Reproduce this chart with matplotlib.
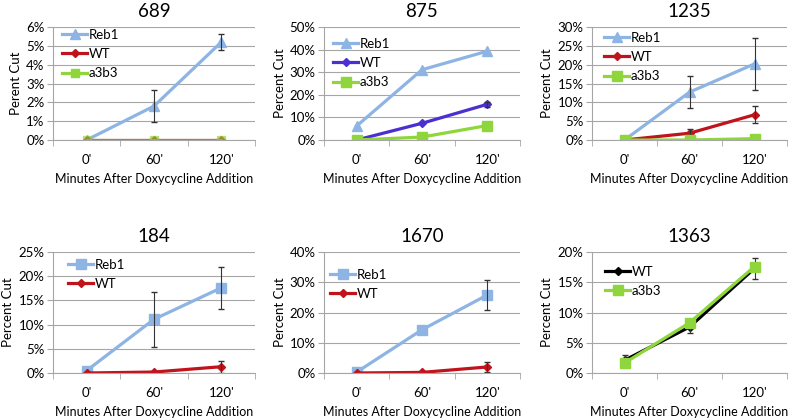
import matplotlib.pyplot as plt
from matplotlib.ticker import PercentFormatter

plt.rcParams['font.family'] = ['Lato', 'DejaVu Sans']

times = ["0'", "60'", "120'"]
x = [0, 1, 2]

# panel 689
p689_reb1 = [0.0, 1.8, 5.2]
p689_reb1_err = [0.0, 0.85, 0.42]
p689_wt = [0.0, 0.0, 0.0]
p689_a3b3 = [0.0, 0.0, 0.0]

# panel 875
p875_reb1 = [6.2, 31.1, 39.3]
p875_wt = [0.0, 7.4, 15.8]
p875_wt_err = [0.0, 0.0, 1.0]
p875_a3b3 = [0.0, 1.3, 6.4]

# panel 1235
p1235_reb1 = [0.0, 12.7, 20.2]
p1235_reb1_err = [0.0, 4.3, 6.8]
p1235_wt = [0.0, 1.8, 6.7]
p1235_wt_err = [0.0, 1.1, 2.2]
p1235_a3b3 = [0.0, 0.0, 0.35]

# panel 184
p184_reb1 = [0.5, 11.1, 17.6]
p184_reb1_err = [0.0, 5.7, 4.4]
p184_wt = [0.0, 0.2, 1.3]
p184_wt_err = [0.0, 0.0, 1.2]

# panel 1670
p1670_reb1 = [0.3, 14.3, 25.8]
p1670_reb1_err = [0.0, 0.0, 4.9]
p1670_wt = [0.0, 0.2, 2.0]
p1670_wt_err = [0.0, 0.0, 1.6]

# panel 1363
p1363_wt = [2.1, 7.6, 17.3]
p1363_wt_err = [0.8, 1.0, 1.7]
p1363_a3b3 = [1.65, 8.3, 17.6]

BLUE = '#8db4e3'
RED = '#c0141c'
PURPLE = '#4b2fd0'
GREEN = '#8ed63c'
GRID = '#a6a6a6'

fig = plt.figure(figsize=(7.93, 4.19), dpi=100)

def make_ax(rect, title, ymax, ystep, ylabel='Percent Cut'):
    ax = fig.add_axes(rect)
    ax.set_xlim(-0.5, 2.5)
    ax.set_ylim(0, ymax)
    ax.set_yticks([i * ystep for i in range(int(round(ymax / ystep)) + 1)])
    ax.yaxis.set_major_formatter(PercentFormatter(decimals=0))
    ax.set_xticks(x)
    ax.set_xticklabels(times)
    ax.set_xticks([-0.5, 0.5, 1.5, 2.5], minor=True)
    ax.tick_params(axis='x', which='major', length=0, labelsize=9.5, pad=10)
    ax.tick_params(axis='x', which='minor', length=4, color=GRID)
    ax.tick_params(axis='y', length=4, color=GRID, labelsize=9.5, pad=2)
    ax.grid(axis='y', color=GRID, lw=0.8)
    ax.set_axisbelow(True)
    for s in ['top', 'right']:
        ax.spines[s].set_visible(False)
    ax.spines['left'].set_color(GRID)
    ax.spines['bottom'].set_color(GRID)
    ax.set_title(title, fontsize=13.5, pad=7)
    ax.set_xlabel('Minutes After Doxycycline Addition', fontsize=9, labelpad=5)
    ax.set_ylabel(ylabel, fontsize=9.5, labelpad=3)
    return ax

def series(ax, y, color, marker, ms, label, err=None, alpha=1.0):
    ax.plot(x, y, color=color, marker=marker, ms=ms, lw=2.3, label=label, alpha=alpha)
    if err is not None:
        # only points that actually have an error bar
        xs = [xi for xi, e in zip(x, err) if e > 0]
        ys = [yi for yi, e in zip(y, err) if e > 0]
        es = [e for e in err if e > 0]
        ax.errorbar(xs, ys, yerr=es, fmt='none', ecolor='#333333',
                    elinewidth=0.8, capsize=2.5)

def legend(ax, dx, dy, w, h):
    # dx, dy: pixel offset of first legend row from the axes top-left corner
    ax.legend(loc='upper left', bbox_to_anchor=((dx - 5) / w, 1 + (11.5 - dy) / h),
              frameon=False, fontsize=9.5, handlelength=1.9,
              handletextpad=0.12, labelspacing=0.55, borderaxespad=0)

top_h = 113 / 419
bot_h = 121 / 419
top_b = 1 - 140 / 419
bot_b = 1 - 373 / 419
cols = [(53 / 793, 202 / 793), (324 / 793, 196 / 793), (592 / 793, 195 / 793)]

ax = make_ax([cols[0][0], top_b, cols[0][1], top_h], '689', 6, 1, 'Perent Cut')
series(ax, p689_reb1, BLUE, '^', 7, 'Reb1', p689_reb1_err)
series(ax, p689_wt, RED, 'D', 4, 'WT')
series(ax, p689_a3b3, GREEN, 's', 6, '_a3b3', alpha=0.6)
ax.plot([], [], color=GREEN, marker='s', ms=6, lw=2.3, label='a3b3')
legend(ax, 9, 8, 202, 113)

ax = make_ax([cols[1][0], top_b, cols[1][1], top_h], '875', 50, 10)
series(ax, p875_reb1, BLUE, '^', 7, 'Reb1')
series(ax, p875_wt, PURPLE, 'D', 4, 'WT', p875_wt_err)
series(ax, p875_a3b3, GREEN, 's', 6.5, 'a3b3')
legend(ax, 9, 17, 196, 113)

ax = make_ax([cols[2][0], top_b, cols[2][1], top_h], '1235', 30, 5)
series(ax, p1235_reb1, BLUE, '^', 7, 'Reb1', p1235_reb1_err)
series(ax, p1235_wt, RED, 'D', 4, 'WT', p1235_wt_err)
series(ax, p1235_a3b3, GREEN, 's', 6.5, 'a3b3')
legend(ax, 12, 11, 195, 113)

ax = make_ax([cols[0][0], bot_b, cols[0][1], bot_h], '184', 25, 5)
series(ax, p184_reb1, BLUE, 's', 7, 'Reb1', p184_reb1_err)
series(ax, p184_wt, RED, 'D', 4, 'WT', p184_wt_err)
legend(ax, 15, 13, 202, 121)

ax = make_ax([cols[1][0], bot_b, cols[1][1], bot_h], '1670', 40, 10)
series(ax, p1670_reb1, BLUE, 's', 7, 'Reb1', p1670_reb1_err)
series(ax, p1670_wt, RED, 'D', 4, 'WT', p1670_wt_err)
legend(ax, 6, 23, 196, 121)

ax = make_ax([cols[2][0], bot_b, cols[2][1], bot_h], '1363', 20, 5)
series(ax, p1363_wt, 'black', 'D', 4, 'WT', p1363_wt_err)
series(ax, p1363_a3b3, GREEN, 's', 7, 'a3b3')
legend(ax, 13, 20, 195, 121)

fig.savefig('out.png', dpi=100)
